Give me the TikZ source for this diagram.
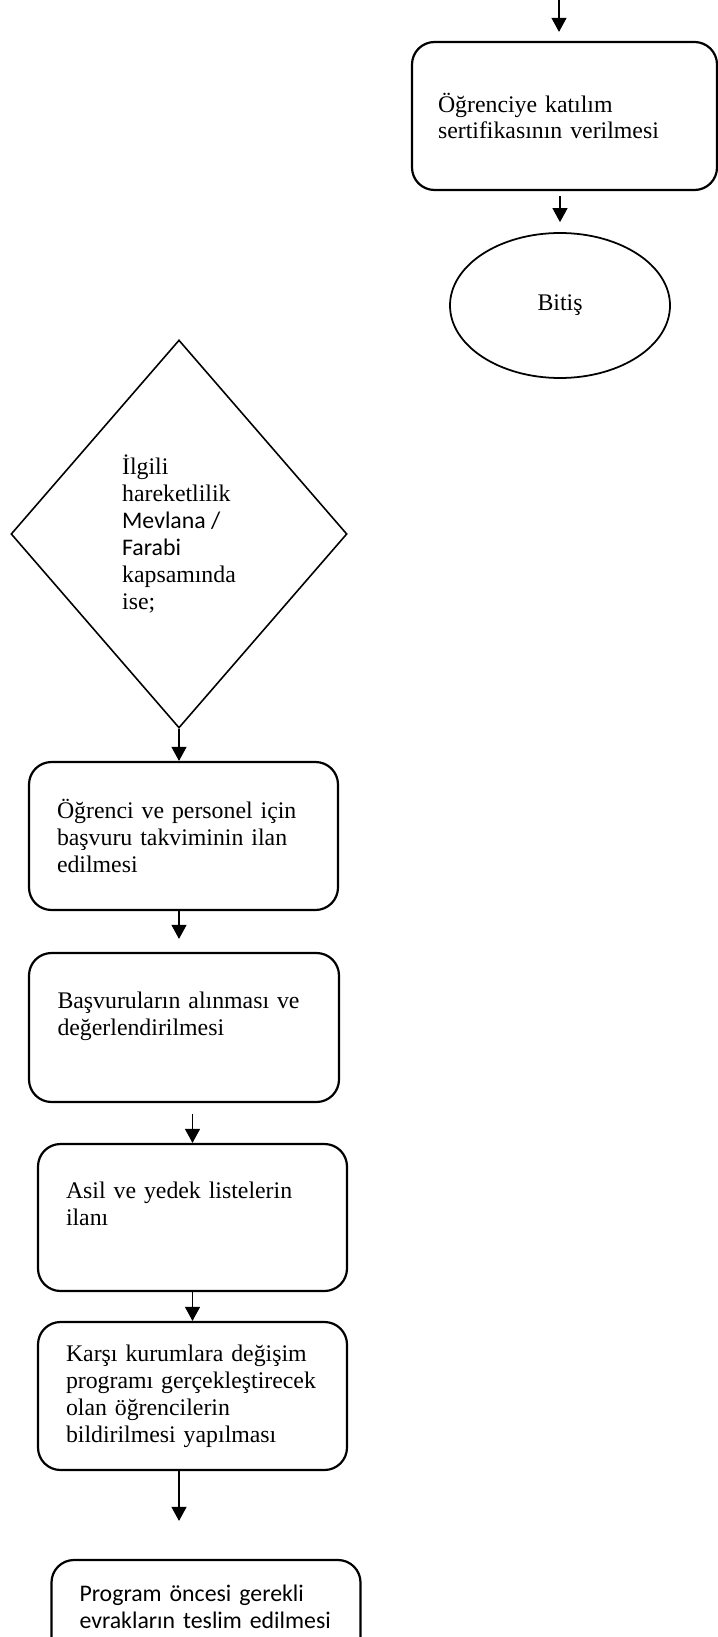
\documentclass[tikz,border=0pt]{standalone}
\usepackage{fontspec}
\setmainfont{Liberation Serif}
\newfontfamily\calibri{Carlito}
\usetikzlibrary{arrows.meta,shapes.geometric}

\begin{document}
\begin{tikzpicture}[
  >={Triangle[width=0.3cm,length=0.28cm]},
  font=\fontsize{13.55}{15.3}\selectfont,
  box/.style={draw, line width=1.25pt, rounded corners=0.45cm,
              minimum width=6.18cm, minimum height=2.96cm,
              text width=5.06cm, align=left, inner sep=0pt},
  dec/.style={draw, diamond, line width=0.9pt,
              minimum width=6.72cm, minimum height=7.76cm,
              align=left, inner sep=0pt},
  term/.style={draw, ellipse, line width=1pt,
               minimum width=4.4cm, minimum height=2.9cm},
  arr/.style={->, line width=0.6pt},
]
  \useasboundingbox (0,0) rectangle (14.36,-32.74);

  \coordinate (top) at (11.18,0);
  \node[box, minimum width=6.1cm] (cert) at (11.29,-2.32)
    {Öğrenciye katılım\\sertifikasının verilmesi};
  \node[term] (fin) at (11.2,-6.11) {Bitiş};

  \node[dec] (dec) at (3.58,-10.68)
    {İlgili\\hareketlilik\\{\calibri Mevlana /}\\{\calibri Farabi}\\kapsamında\\ise;};
  \node[box] (plan)   at (3.67,-16.72)
    {Öğrenci ve personel için\\başvuru takviminin ilan\\edilmesi};
  \node[box, minimum width=6.2cm, minimum height=2.98cm] (apply) at (3.68,-20.55)
    {Başvuruların alınması ve\\değerlendirilmesi\\\mbox{}};
  \node[box, minimum height=2.94cm] (list) at (3.85,-24.35)
    {Asil ve yedek listelerin\\ilanı\\\mbox{}};
  \node[box] (notify) at (3.85,-27.92)
    {Karşı kurumlara değişim\\programı gerçekleştirecek\\olan öğrencilerin\\bildirilmesi yapılması};
  \node[box] (docs)   at (4.12,-32.68)
    {\calibri Program öncesi gerekli\\evrakların teslim edilmesi\\\mbox{}\\\mbox{}};

  \draw[arr, shorten >=0.18cm] (top) -- (top |- cert.north);
  \draw[arr, shorten <=0.1cm, shorten >=0.2cm] (fin.north |- cert.south) -- (fin.north);
  \draw[arr] (dec.south) -- (dec.south |- plan.north);
  \draw[arr, shorten >=0.26cm] (dec.south |- plan.south) -- (dec.south |- apply.north);
  \draw[arr, shorten <=0.22cm] (list.north |- apply.south) -- (list.north);
  \draw[arr] (list) -- (notify);
  \draw[arr, shorten >=0.76cm] (dec.south |- notify.south) -- (dec.south |- docs.north);
\end{tikzpicture}
\end{document}
